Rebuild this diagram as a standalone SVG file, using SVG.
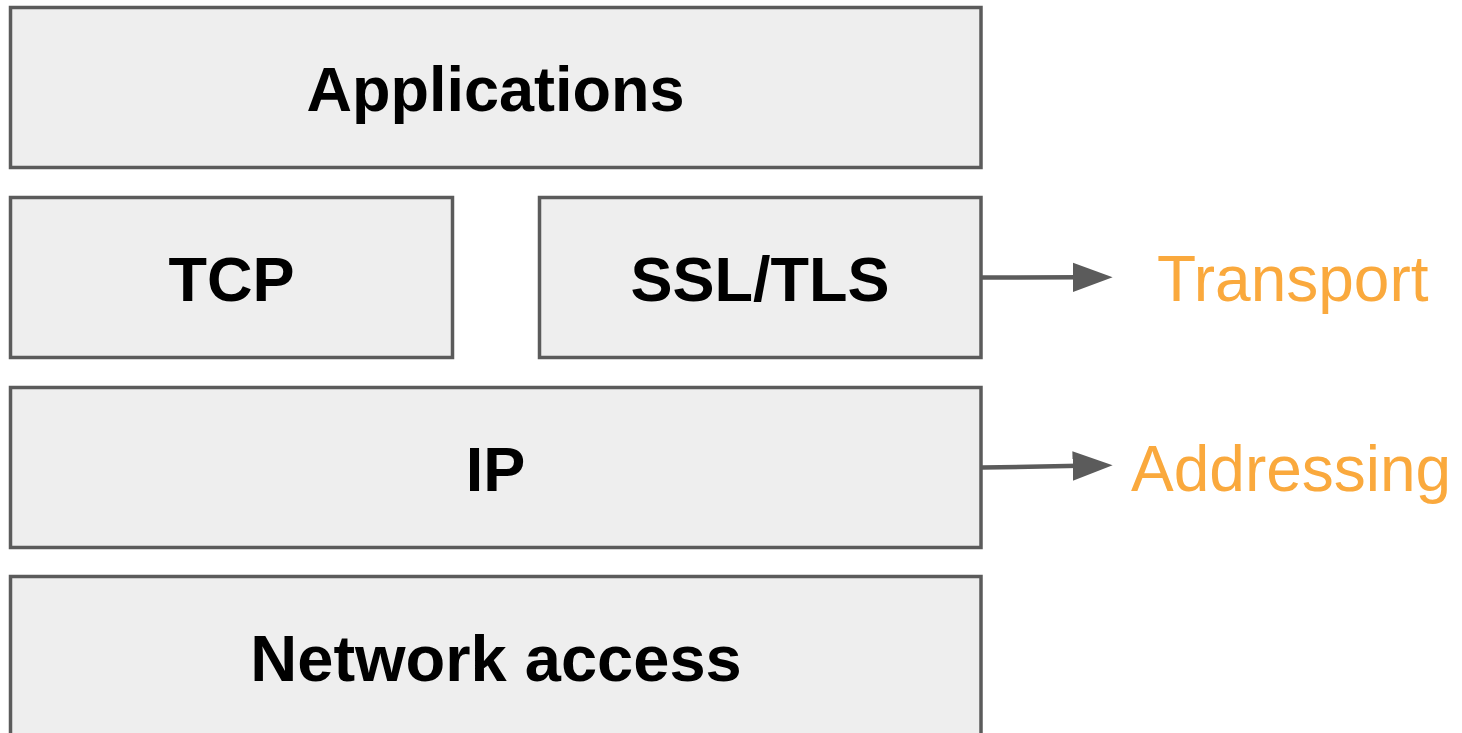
<svg xmlns="http://www.w3.org/2000/svg" width="1462" height="733" viewBox="0 0 1462 733">
  <style>
    .box { fill: #eeeeee; stroke: #5b5b5b; stroke-width: 3.5; }
    .lbl { font-family: "Liberation Sans", Arial, sans-serif; font-weight: bold; font-size: 63px; fill: #000000; text-anchor: middle; }
    .side { font-family: "Liberation Sans", Arial, sans-serif; font-size: 64px; fill: #faa93d; }
    .conn { stroke: #5b5b5b; stroke-width: 4.5; fill: none; }
  </style>
  <defs>
    <marker id="arrow" markerUnits="userSpaceOnUse" markerWidth="40" markerHeight="30" viewBox="0 0 38 28" refX="7" refY="14" orient="auto">
      <path d="M0,0 L38,14 L0,28 z" fill="#5b5b5b"/>
    </marker>
  </defs>
  <rect width="1462" height="733" fill="#ffffff"/>
  <g id="applications">
    <rect class="box" x="10.5" y="7.5" width="970.5" height="160"/>
    <text class="lbl" x="495.5" y="111">Applications</text>
  </g>
  <g id="tcp">
    <rect class="box" x="10.5" y="197.5" width="442" height="160"/>
    <text class="lbl" x="231.5" y="301">TCP</text>
  </g>
  <g id="ssltls">
    <rect class="box" x="539.5" y="197.5" width="441.5" height="160"/>
    <text class="lbl" x="760" y="301">SSL/TLS</text>
  </g>
  <g id="ip">
    <rect class="box" x="10.5" y="387.5" width="970.5" height="160"/>
    <text class="lbl" x="495.5" y="491">IP</text>
  </g>
  <g id="network-access">
    <rect class="box" x="10.5" y="576.5" width="970.5" height="200"/>
    <text class="lbl" x="496" y="681" style="font-size:65px">Network access</text>
  </g>
  <g id="transport">
    <text class="side" x="1157" y="301">Transport</text>
  </g>
  <g id="addressing">
    <text class="side" x="1131" y="491">Addressing</text>
  </g>
  <g id="connectors">
    <line class="conn" x1="982" y1="277.5" x2="1080" y2="277.3" marker-end="url(#arrow)"/>
    <line class="conn" x1="982" y1="467.5" x2="1080" y2="465.8" marker-end="url(#arrow)"/>
  </g>
</svg>
